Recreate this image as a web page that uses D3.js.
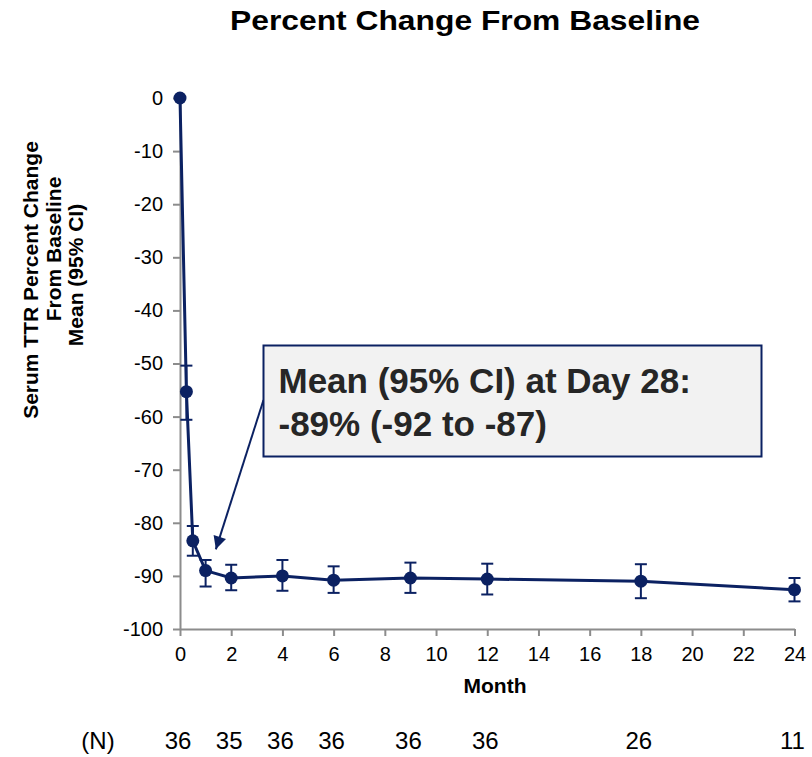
<!DOCTYPE html>
<html>
<head>
<meta charset="utf-8">
<script src="https://cdn.jsdelivr.net/npm/d3@7"></script>
<style>
  html, body { margin: 0; padding: 0; background: #fff; }
  svg { display: block; font-family: "Liberation Sans", Arial, sans-serif; }
</style>
</head>
<body>
<svg id="chart" width="812" height="757"></svg>
<script>
// Visit months and serum TTR percent change from baseline (mean and 95% CI)
const months = [0, 0.25, 0.5, 1, 2, 4, 6, 9, 12, 18, 24];
const meanChange = [0, -55.3, -83.4, -89, -90.4, -90.0, -90.8, -90.4, -90.6, -91.0, -92.6];
const ciLower = [0, -60.6, -86.2, -92, -92.7, -92.8, -93.2, -93.2, -93.5, -94.2, -94.8];
const ciUpper = [0, -50.4, -80.6, -87, -87.9, -87.0, -88.2, -87.5, -87.7, -87.8, -90.4];

// Number of patients at each visit
const nMonths = [0, 2, 4, 6, 9, 12, 18, 24];
const nValues = [36, 35, 36, 36, 36, 36, 26, 11];

// Axis ticks
const xTicks = d3.range(0, 25, 2);
const yTicks = d3.range(0, -101, -10);

const navy = "#0b2162";
const axisGrey = "#8c8c8c";
const font = "Liberation Sans, Arial, sans-serif";

const svg = d3.select("#chart");

const x = d3.scaleLinear().domain([0, 24]).range([180, 794.5]);
const y = d3.scaleLinear().domain([0, -100]).range([98, 629]);

// Title
svg.append("text")
  .attr("x", 465).attr("y", 30)
  .attr("text-anchor", "middle")
  .attr("font-size", 28).attr("font-weight", "bold")
  .attr("textLength", 470).attr("lengthAdjust", "spacingAndGlyphs")
  .text("Percent Change From Baseline");

// Y axis
const yAxis = svg.append("g")
  .attr("transform", `translate(${x(0)},0)`)
  .call(d3.axisLeft(y).tickValues(yTicks).tickFormat(d => String(d))
    .tickSize(7).tickPadding(10).tickSizeOuter(0));
yAxis.select(".domain").attr("stroke", axisGrey).attr("stroke-width", 2);
yAxis.selectAll(".tick line").attr("stroke", axisGrey).attr("stroke-width", 2);
yAxis.selectAll(".tick text")
  .attr("font-size", 20).attr("fill", "#000").attr("font-family", font);

// X axis
const xAxis = svg.append("g")
  .attr("transform", `translate(0,${y(-100)})`)
  .call(d3.axisBottom(x).tickValues(xTicks).tickFormat(d => String(d))
    .tickSize(7).tickPadding(11).tickSizeOuter(0));
xAxis.select(".domain").attr("stroke", axisGrey).attr("stroke-width", 2);
xAxis.selectAll(".tick line").attr("stroke", axisGrey).attr("stroke-width", 2);
xAxis.selectAll(".tick text")
  .attr("font-size", 20).attr("fill", "#000").attr("font-family", font);

// Axis titles
svg.append("text")
  .attr("x", 495).attr("y", 693)
  .attr("text-anchor", "middle")
  .attr("font-size", 21).attr("font-weight", "bold")
  .text("Month");

const yTitleLines = [
  { text: "Serum TTR Percent Change", base: 38, mid: 280 },
  { text: "From Baseline", base: 61, mid: 249 },
  { text: "Mean (95% CI)", base: 83, mid: 275 }
];
svg.append("g").selectAll("text")
  .data(yTitleLines)
  .join("text")
  .attr("transform", d => `translate(${d.base},${d.mid}) rotate(-90)`)
  .attr("text-anchor", "middle")
  .attr("font-size", 21).attr("font-weight", "bold")
  .text(d => d.text);

// Data
const pts = months.map((m, i) => ({ m, v: meanChange[i], lo: ciLower[i], hi: ciUpper[i] }));

// Connecting line
svg.append("path")
  .datum(pts)
  .attr("fill", "none")
  .attr("stroke", navy)
  .attr("stroke-width", 3)
  .attr("d", d3.line().x(d => x(d.m)).y(d => y(d.v)));

// Error bars
const eb = svg.append("g").attr("stroke", navy).attr("stroke-width", 2);
pts.filter(d => d.lo !== d.hi).forEach(d => {
  const cx = x(d.m), cap = 6;
  eb.append("line").attr("x1", cx).attr("x2", cx).attr("y1", y(d.lo)).attr("y2", y(d.hi));
  eb.append("line").attr("x1", cx - cap).attr("x2", cx + cap).attr("y1", y(d.lo)).attr("y2", y(d.lo));
  eb.append("line").attr("x1", cx - cap).attr("x2", cx + cap).attr("y1", y(d.hi)).attr("y2", y(d.hi));
});

// Markers
svg.append("g").selectAll("circle")
  .data(pts)
  .join("circle")
  .attr("cx", d => x(d.m)).attr("cy", d => y(d.v))
  .attr("r", 6.5)
  .attr("fill", navy);

// Callout for Day 28
const box = { x: 263.5, y: 345.5, w: 498, h: 111 };
svg.append("defs").append("marker")
  .attr("id", "arrowhead")
  .attr("viewBox", "0 0 10 10")
  .attr("refX", 10).attr("refY", 5)
  .attr("markerWidth", 8).attr("markerHeight", 6.5)
  .attr("markerUnits", "strokeWidth")
  .attr("orient", "auto")
  .append("path").attr("d", "M0,0 L10,5 L0,10 Z").attr("fill", navy);

svg.append("line")
  .attr("x1", box.x).attr("y1", 400)
  .attr("x2", x(1.4)).attr("y2", y(-85))
  .attr("stroke", navy).attr("stroke-width", 2)
  .attr("marker-end", "url(#arrowhead)");

svg.append("rect")
  .attr("x", box.x).attr("y", box.y)
  .attr("width", box.w).attr("height", box.h)
  .attr("fill", "#f2f2f2")
  .attr("stroke", navy).attr("stroke-width", 2);

const callout = svg.append("text")
  .attr("font-size", 35).attr("font-weight", "bold").attr("fill", "#262626");
callout.append("tspan").attr("x", box.x + 15).attr("y", 393).text("Mean (95% CI) at Day 28:");
callout.append("tspan").attr("x", box.x + 15).attr("y", 436).text("-89% (-92 to -87)");

// Patient counts row
svg.append("text")
  .attr("x", 98).attr("y", 749)
  .attr("text-anchor", "middle")
  .attr("font-size", 24)
  .text("(N)");
svg.append("g").selectAll("text")
  .data(nMonths.map((m, i) => ({ m, n: nValues[i] })))
  .join("text")
  .attr("x", d => x(d.m) - 2).attr("y", 749)
  .attr("text-anchor", "middle")
  .attr("font-size", 24)
  .text(d => d.n);
</script>
</body>
</html>
